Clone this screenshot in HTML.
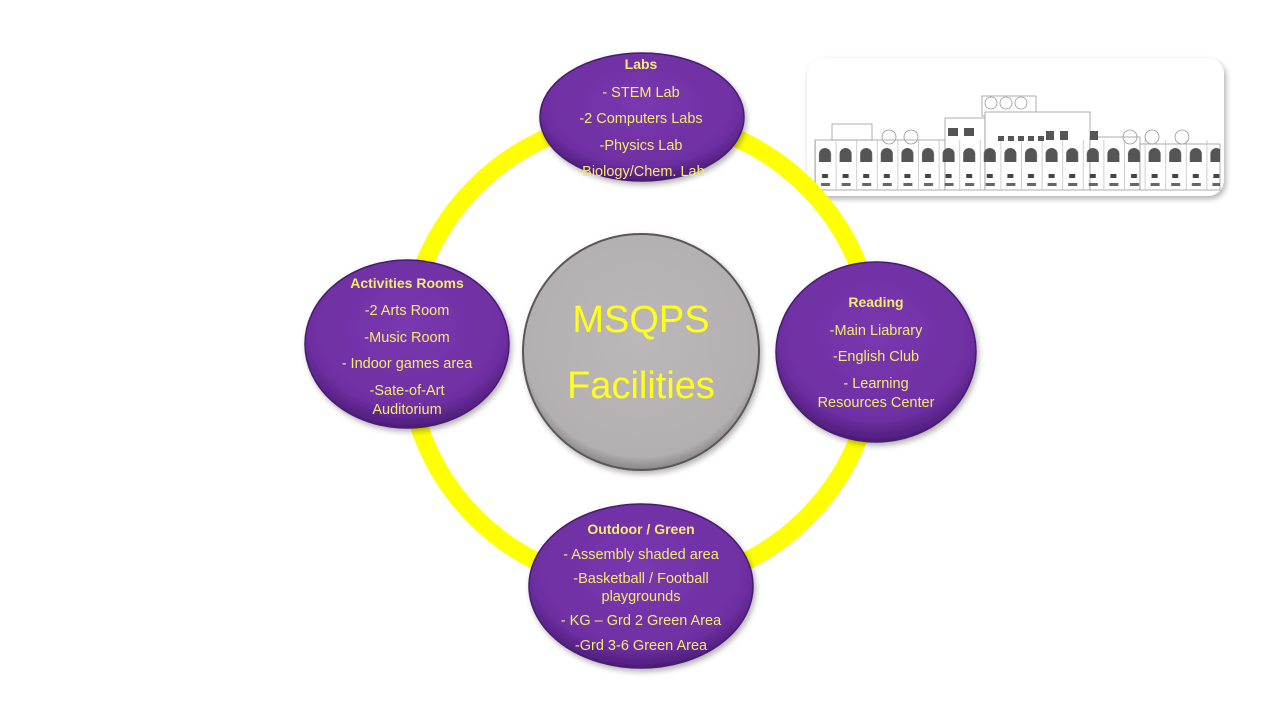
<!DOCTYPE html>
<html><head><meta charset="utf-8"><style>
html,body{margin:0;padding:0;background:#fff;width:1280px;height:720px;overflow:hidden}
svg{display:block}
text{font-family:"Liberation Sans",sans-serif;fill:#f6ea72;text-anchor:middle}
.h{font-weight:bold;font-size:14px}
.t{font-size:14.5px}
</style></head><body>
<svg width="1280" height="720" viewBox="0 0 1280 720" xmlns="http://www.w3.org/2000/svg">
<defs>
<radialGradient id="pg" cx="50%" cy="40%" r="60%">
<stop offset="0" stop-color="#7a38b0"/><stop offset="0.8" stop-color="#6e2fa2"/><stop offset="1" stop-color="#4c1c78"/>
</radialGradient>
<radialGradient id="gg" cx="50%" cy="45%" r="55%">
<stop offset="0" stop-color="#bcb8ba"/><stop offset="0.9" stop-color="#b4b0b2"/><stop offset="1" stop-color="#8a8688"/>
</radialGradient>
<filter id="sh" x="-20%" y="-20%" width="140%" height="140%"><feDropShadow dx="2" dy="3" stdDeviation="3" flood-color="#000" flood-opacity="0.3"/></filter>
<pattern id="win" x="815" y="0" width="20.6" height="200" patternUnits="userSpaceOnUse">
<path d="M4 162 v-8 a6 6 0 0 1 12 0 v8 z" fill="#555"/>
<rect x="7" y="174" width="6" height="4" fill="#444"/>
<rect x="6" y="183" width="9" height="3" fill="#666"/>
<line x1="0.5" y1="140" x2="0.5" y2="190" stroke="#bbb" stroke-width="0.7"/>
</pattern>
</defs>

<!-- Building image -->
<g filter="url(#sh)">
<rect x="807" y="58" width="417" height="138" rx="16" fill="#fff"/>
</g>
<g stroke="#999" stroke-width="0.8" fill="#fff">
<rect x="815" y="140" width="130" height="50"/>
<rect x="945" y="118" width="40" height="72"/>
<rect x="982" y="96" width="54" height="20"/>
<rect x="985" y="112" width="105" height="78"/>
<rect x="1090" y="137" width="50" height="53"/>
<rect x="1140" y="144" width="80" height="46"/>
<rect x="832" y="124" width="40" height="16"/>
</g>
<rect x="815" y="140" width="405" height="50" fill="url(#win)"/>
<g fill="#555">
<rect x="948" y="128" width="10" height="8"/><rect x="964" y="128" width="10" height="8"/>
<rect x="1046" y="131" width="8" height="9"/><rect x="1060" y="131" width="8" height="9"/><rect x="1090" y="131" width="8" height="9"/>
<rect x="998" y="136" width="6" height="5"/><rect x="1008" y="136" width="6" height="5"/><rect x="1018" y="136" width="6" height="5"/><rect x="1028" y="136" width="6" height="5"/><rect x="1038" y="136" width="6" height="5"/>
</g>
<g fill="none" stroke="#999" stroke-width="0.8">
<circle cx="889" cy="137" r="7"/><circle cx="911" cy="137" r="7"/>
<circle cx="991" cy="103" r="6"/><circle cx="1006" cy="103" r="6"/><circle cx="1021" cy="103" r="6"/>
<circle cx="1130" cy="137" r="7"/><circle cx="1152" cy="137" r="7"/><circle cx="1182" cy="137" r="7"/>
</g>

<!-- Yellow ring -->
<circle cx="641" cy="352" r="234" fill="none" stroke="#ffff00" stroke-width="18"/>

<!-- Center circle -->
<g filter="url(#sh)">
<circle cx="641" cy="352" r="118" fill="url(#gg)" stroke="#5a5658" stroke-width="2"/>
</g>
<text x="641" y="332" style="font-size:38px;fill:#ffff1a">MSQPS</text>
<text x="641" y="398" style="font-size:38px;fill:#ffff1a">Facilities</text>

<!-- Ellipses -->
<g filter="url(#sh)" stroke="#4a1a70" stroke-width="1.5">
<ellipse cx="642" cy="117" rx="102" ry="64" fill="url(#pg)"/>
<ellipse cx="407" cy="344" rx="102" ry="84" fill="url(#pg)"/>
<ellipse cx="876" cy="352" rx="100" ry="90" fill="url(#pg)"/>
<ellipse cx="641" cy="586" rx="112" ry="82" fill="url(#pg)"/>
</g>

<text class="h" x="641" y="69">Labs</text>
<text class="t" x="641" y="97">- STEM Lab</text>
<text class="t" x="641" y="123">-2 Computers Labs</text>
<text class="t" x="641" y="150">-Physics Lab</text>
<text class="t" x="641" y="176">-Biology/Chem. Lab</text>

<text class="h" x="407" y="288">Activities Rooms</text>
<text class="t" x="407" y="315">-2 Arts Room</text>
<text class="t" x="407" y="342">-Music Room</text>
<text class="t" x="407" y="368">- Indoor games area</text>
<text class="t" x="407" y="395">-Sate-of-Art</text>
<text class="t" x="407" y="414">Auditorium</text>

<text class="h" x="876" y="307">Reading</text>
<text class="t" x="876" y="335">-Main Liabrary</text>
<text class="t" x="876" y="361">-English Club</text>
<text class="t" x="876" y="388">- Learning</text>
<text class="t" x="876" y="407">Resources Center</text>

<text class="h" x="641" y="534">Outdoor / Green</text>
<text class="t" x="641" y="559">- Assembly shaded area</text>
<text class="t" x="641" y="583">-Basketball / Football</text>
<text class="t" x="641" y="601">playgrounds</text>
<text class="t" x="641" y="625">- KG – Grd 2 Green Area</text>
<text class="t" x="641" y="650">-Grd 3-6 Green Area</text>
</svg>
</body></html>
